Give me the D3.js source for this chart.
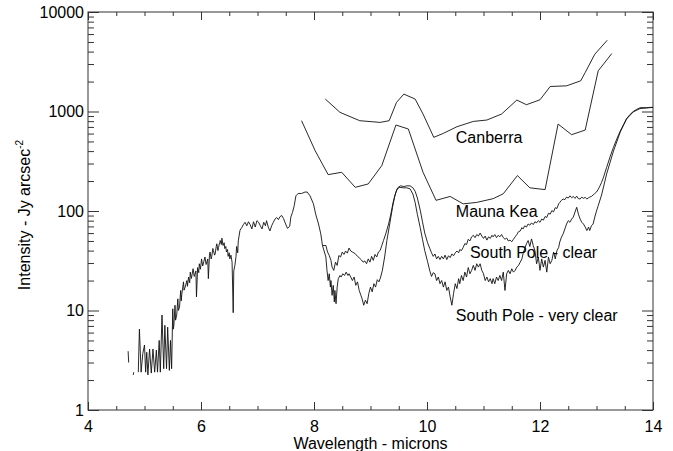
<!DOCTYPE html>
<html>
<head>
<meta charset="utf-8">
<script src="https://cdn.jsdelivr.net/npm/d3@7"></script>
<style>
  body { margin: 0; background: #fff; }
  svg text { font-family: "Liberation Sans", Arial, Helvetica, sans-serif; font-size: 16px; fill: #000; }
  .axis path { display: none; }
  .axis line { stroke: #333; }
</style>
</head>
<body>
<div id="chart"></div>
<script>
// axis ticks
const xTicks = [4, 6, 8, 10, 12, 14];
const xMinorTicks = d3.range(4, 14.01, 0.5);
const yTicks = [1, 10, 100, 1000, 10000];

// [wavelength (microns), intensity (Jy arcsec^-2)], null = gap in the spectrum
const sharedSpectrum = [
  [4.71,3.9],[4.72,3.0],[4.73,null],
  [4.80,2.25],[4.81,2.4],[4.82,null],
  [4.89,2.4],[4.91,6.5],[4.94,2.4],[4.97,3.7],[5.00,4.5],[5.02,2.4],[5.04,3.8],[5.06,2.25],[5.09,4.1],[5.12,2.35],
  [5.15,4.1],[5.18,2.4],[5.21,4.0],[5.23,2.4],[5.26,5.0],[5.28,2.4],[5.31,9.0],[5.34,2.6],[5.36,7.1],[5.39,2.6],
  [5.41,6.8],[5.44,2.5],[5.46,5.0],[5.48,2.6],[5.50,10.4],[5.51,6.5],[5.52,7.1],[5.54,11.3],[5.55,8],[5.57,9.0],
  [5.59,13.1],[5.60,10],[5.62,10.8],[5.64,15.9],[5.65,12.5],[5.66,14.5],[5.69,19.4],[5.70,16],[5.72,17.2],[5.75,20],
  [5.76,17.5],[5.78,21.7],[5.80,19],[5.81,24.3],[5.83,21],[5.86,26.3],[5.88,22],[5.89,23],[5.91,25],[5.92,13.7],
  [5.94,27],[5.96,24],[5.97,29.5],[5.99,26],[6.01,33],[6.03,28],[6.05,31],[6.07,34.5],[6.09,29],[6.10,30],[6.12,33],
  [6.13,20.9],[6.15,36],[6.16,38.7],[6.18,33],[6.19,35],[6.21,42],[6.22,40],[6.24,36],[6.25,37],[6.27,44],[6.28,46.8],
  [6.30,40],[6.31,43],[6.33,48],[6.34,50.5],[6.36,46],[6.37,53.3],[6.39,45],[6.41,48],[6.42,41.9],[6.44,44],[6.45,38.7],
  [6.47,41],[6.48,35],[6.50,38],[6.51,33],[6.53,36],[6.55,30.6],[6.57,9.5],[6.58,25],[6.60,28.4],[6.62,35],[6.63,44],
  [6.65,38],[6.66,50],[6.69,64],[6.72,68],[6.75,73],[6.78,77],[6.81,71],[6.84,78],[6.87,73],[6.90,66],[6.93,78],
  [6.96,69],[6.99,80],[7.02,77],[7.05,71],[7.08,66],[7.11,77],[7.14,71],[7.16,80],[7.19,69],[7.22,63],[7.25,71],
  [7.28,77],[7.31,83],[7.34,86],[7.37,82],[7.40,88],[7.43,90],[7.46,84],[7.49,76],[7.53,67],[7.57,70],[7.59,87],
  [7.62,97],[7.65,113],[7.68,142],[7.72,150],[7.78,150],[7.84,155],[7.88,155],[7.93,142],[7.99,118],[8.03,93],
  [8.08,74],[8.12,59],[8.15,45]
];

const southPoleClear = [
  [8.15,45],[8.21,45],[8.24,38.7],[8.27,35.7],[8.30,31.9],[8.32,27.3],[8.35,25.3],[8.38,30.6],[8.41,28.4],[8.44,35.7],
  [8.47,34.5],[8.50,38.7],[8.53,36.6],[8.56,39.6],[8.59,37.7],[8.62,42.4],[8.65,39.6],[8.68,38.7],[8.73,37.2],[8.77,35],
  [8.80,33.9],[8.84,32.2],[8.87,30.6],[8.90,31.5],[8.93,29.5],[8.96,33],[8.99,30.6],[9.02,35],[9.05,31.9],[9.08,36.6],
  [9.11,34.5],[9.14,38.7],[9.17,40],[9.20,45],[9.23,50.5],[9.27,59],[9.32,74],[9.36,93],[9.40,122],[9.45,155],
  [9.49,173],[9.53,179],[9.59,176],[9.64,179],[9.70,179],[9.75,171],[9.79,158],[9.83,135],[9.88,102],[9.92,78],
  [9.96,60],[10.01,48],[10.05,42],[10.08,38],[10.11,35],[10.14,37],[10.17,33],[10.20,35],[10.23,32.5],[10.26,35],
  [10.29,33],[10.32,36],[10.35,32.5],[10.38,35.5],[10.41,34],[10.44,37],[10.47,35.5],[10.50,38],[10.53,39.6],[10.56,38],
  [10.58,41],[10.61,40],[10.64,43],[10.67,47],[10.70,46],[10.73,52],[10.76,50],[10.79,55],[10.82,57],[10.85,54],
  [10.88,58],[10.91,56],[10.94,60],[10.97,56],[11.00,53],[11.03,56],[11.06,51],[11.09,55],[11.12,53],[11.15,57],
  [11.17,55],[11.20,58],[11.23,54],[11.26,57],[11.29,55],[11.32,58],[11.35,54],[11.38,52],[11.41,53.5],[11.44,50],
  [11.47,51],[11.50,49],[11.53,52],[11.56,55],[11.59,58],[11.62,62],[11.65,63],[11.68,68],[11.70,66],[11.73,71],
  [11.76,69],[11.79,74],[11.82,72],[11.85,76],[11.88,73],[11.91,78],[11.94,76],[11.97,80],[12.00,77],[12.03,83],
  [12.06,81],[12.09,88],[12.12,86],[12.15,95],[12.18,93],[12.21,101],[12.24,98],[12.27,108],[12.30,106],[12.33,118],
  [12.35,122],[12.38,128],[12.41,132],[12.44,130],[12.47,138],[12.50,135],[12.53,142],[12.56,136],[12.59,140],
  [12.62,134],[12.65,141],[12.68,133],[12.71,132],[12.74,138],[12.77,134],[12.80,137],[12.83,132],[12.86,136],
  [12.88,138],[12.91,140],[12.94,145],[12.97,150],[13.00,155],[13.03,165],[13.06,178],[13.09,194],[13.12,215],
  [13.18,275],[13.24,350],[13.30,436],[13.36,530],[13.42,636],[13.48,740],[13.53,840],[13.59,930],[13.65,1000],
  [13.71,1050],[13.77,1090],[13.83,1095],[13.88,1090],[13.94,1100],[14.0,1100]
];

const southPoleVeryClear = [
  [8.15,45],[8.21,34.5],[8.23,25.3],[8.25,20],[8.27,23.4],[8.29,17.2],[8.30,20],[8.32,14.2],[8.34,17.9],[8.36,12.2],
  [8.37,15.9],[8.39,11.7],[8.41,17.2],[8.43,20.9],[8.46,22.5],[8.48,21.7],[8.51,23.4],[8.54,22.5],[8.57,24.3],
  [8.60,22.5],[8.62,23.4],[8.65,21.7],[8.68,20],[8.71,21.7],[8.74,17.9],[8.77,19.4],[8.80,15.9],[8.83,14.2],
  [8.85,13.2],[8.88,11.3],[8.91,12.7],[8.94,11.7],[8.97,14.8],[9.00,17.2],[9.03,15.4],[9.06,18.6],[9.09,17.2],
  [9.12,20.4],[9.15,19.4],[9.18,21.7],[9.21,25.3],[9.25,34.5],[9.29,50.5],[9.34,74],[9.39,109],[9.43,142],[9.47,167],
  [9.52,173],[9.58,171],[9.64,171],[9.70,167],[9.75,148],[9.79,122],[9.83,92],[9.88,68],[9.92,52],[9.96,40],
  [10.01,31],[10.05,25],[10.08,22],[10.11,24],[10.14,23.4],[10.17,20],[10.20,21.7],[10.23,18.6],[10.26,20],
  [10.29,17.2],[10.32,19.4],[10.35,15.9],[10.38,17.2],[10.41,13.7],[10.44,11.3],[10.47,14.8],[10.50,18.6],[10.53,16.6],
  [10.56,20.9],[10.58,18.6],[10.61,22.5],[10.64,20],[10.67,24.3],[10.70,21.7],[10.73,27],[10.76,23.4],[10.79,25.3],
  [10.82,28.4],[10.85,25.3],[10.88,29.5],[10.91,27.3],[10.94,29.5],[10.97,25.3],[11.00,23.4],[11.03,20],[11.06,21.7],
  [11.09,19.4],[11.12,20.9],[11.15,18.6],[11.17,20.9],[11.20,18.6],[11.23,21.7],[11.26,20],[11.29,22.5],[11.32,20],
  [11.35,24.3],[11.38,15.9],[11.41,23.4],[11.44,25.3],[11.47,23.4],[11.50,26.3],[11.53,24.3],[11.56,25.3],[11.59,27.3],
  [11.62,28.4],[11.65,30.6],[11.68,33],[11.70,37.2],[11.73,41.9],[11.76,46.8],[11.79,50.5],[11.82,44],[11.85,52.4],
  [11.88,45],[11.91,40],[11.94,29.5],[11.97,34.5],[12.00,25.3],[12.03,33],[12.06,27.3],[12.09,31.9],[12.12,24.3],
  [12.15,34.5],[12.18,29.5],[12.21,31.9],[12.24,38.7],[12.27,33],[12.30,40],[12.33,43],[12.35,48.8],[12.38,54.6],
  [12.41,59],[12.44,66],[12.47,74],[12.50,80],[12.53,77],[12.56,83],[12.59,87],[12.62,97.7],[12.65,109],[12.68,93],
  [12.71,83],[12.74,77],[12.77,74],[12.80,69],[12.83,63.6],[12.86,69],[12.88,63.6],[12.91,71],[12.94,74],[12.97,87],
  [13.00,100],[13.03,113],[13.09,145],[13.18,236],[13.30,400],[13.42,620],[13.53,840],[13.65,990],[13.77,1070],
  [13.88,1085],[14.0,1100]
];

const canberra = [
  [8.20,1334],[8.46,980],[8.81,808],[9.17,777],[9.33,808],[9.46,1233],[9.59,1496],[9.79,1334],[9.93,943],
  [10.12,550],[10.29,603],[10.53,703],[10.82,795],[11.06,821],[11.32,943],[11.59,1303],[11.76,1170],[12.00,1312],
  [12.18,1783],[12.47,1812],[12.72,2033],[12.80,2464],[12.97,3767],[13.19,5200]
];

const maunaKea = [
  [7.78,808],[8.02,404],[8.25,232],[8.49,245],[8.73,173],[8.96,187],[9.20,286],[9.45,731],[9.67,667],[9.93,245],
  [10.16,128],[10.41,140],[10.64,118],[10.88,122],[11.17,133],[11.35,149],[11.60,227],[11.82,171],[12.09,164],
  [12.32,748],[12.56,585],[12.80,651],[13.03,2563],[13.27,3820]
];

// site labels, anchored at [wavelength, intensity] of the text baseline start
const siteLabels = ["Canberra", "Mauna Kea", "South Pole - clear", "South Pole - very clear"];
const siteLabelAnchors = [[10.51, 482], [10.51, 88], [10.76, 34], [10.51, 7.8]];

const width = 673, height = 451;
const margin = {top: 12, right: 20, bottom: 41, left: 88};
const innerW = width - margin.left - margin.right;
const innerH = height - margin.top - margin.bottom;

const svg = d3.select("#chart").append("svg")
    .attr("width", width)
    .attr("height", height);

const g = svg.append("g")
    .attr("transform", `translate(${margin.left},${margin.top})`);

const x = d3.scaleLinear().domain([4, 14]).range([0, innerW]);
const y = d3.scaleLog().domain([1, 10000]).range([innerH, 0]);

// minor log ticks 2..9 in every decade
const yMinorTicks = [];
yTicks.slice(0, -1).forEach(d => {
    for (let k = 2; k <= 9; k++) yMinorTicks.push(d * k);
});

// bottom axis
g.append("g").attr("class", "axis")
    .attr("transform", `translate(0,${innerH})`)
    .call(d3.axisBottom(x).tickValues(xMinorTicks).tickSize(-4).tickFormat(""));
g.append("g").attr("class", "axis")
    .attr("transform", `translate(0,${innerH})`)
    .call(d3.axisBottom(x).tickValues(xTicks).tickSize(-8).tickPadding(11).tickFormat(d3.format("d")))
    .selectAll("text").style("font-size", "16px");

// top axis (ticks only)
g.append("g").attr("class", "axis")
    .call(d3.axisTop(x).tickValues(xMinorTicks).tickSize(-4).tickFormat(""));
g.append("g").attr("class", "axis")
    .call(d3.axisTop(x).tickValues(xTicks).tickSize(-8).tickFormat(""));

// left axis
g.append("g").attr("class", "axis")
    .call(d3.axisLeft(y).tickValues(yMinorTicks).tickSize(-6).tickFormat(""));
g.append("g").attr("class", "axis")
    .call(d3.axisLeft(y).tickValues(yTicks).tickSize(-11).tickPadding(4).tickFormat(d3.format("d")))
    .selectAll("text").style("font-size", "16px");

// right axis (ticks only)
g.append("g").attr("class", "axis")
    .attr("transform", `translate(${innerW},0)`)
    .call(d3.axisRight(y).tickValues(yMinorTicks).tickSize(-6).tickFormat(""));
g.append("g").attr("class", "axis")
    .attr("transform", `translate(${innerW},0)`)
    .call(d3.axisRight(y).tickValues(yTicks).tickSize(-11).tickFormat(""));

// frame
g.append("rect")
    .attr("width", innerW)
    .attr("height", innerH)
    .attr("fill", "none")
    .attr("stroke", "#333");

const line = d3.line()
    .defined(d => d[1] != null)
    .x(d => x(d[0]))
    .y(d => y(d[1]));

[sharedSpectrum, southPoleClear, southPoleVeryClear, canberra, maunaKea].forEach(series => {
    g.append("path")
        .datum(series)
        .attr("fill", "none")
        .attr("stroke", "#111")
        .attr("stroke-width", 0.9)
        .attr("stroke-linejoin", "round")
        .attr("d", line);
});

g.selectAll(".site-label")
    .data(siteLabels)
    .enter().append("text")
    .attr("class", "site-label")
    .attr("x", (d, i) => x(siteLabelAnchors[i][0]))
    .attr("y", (d, i) => y(siteLabelAnchors[i][1]))
    .text(d => d);

// axis titles
svg.append("text")
    .attr("x", margin.left + innerW / 2)
    .attr("y", 449)
    .attr("text-anchor", "middle")
    .text("Wavelength - microns");

const yTitle = svg.append("text")
    .attr("transform", `translate(30,${margin.top + innerH / 2 + 4}) rotate(-90)`)
    .attr("text-anchor", "middle");
yTitle.append("tspan").text("Intensity - Jy arcsec");
yTitle.append("tspan")
    .attr("dy", -7)
    .style("font-size", "10px")
    .text("-2");
</script>
</body>
</html>
